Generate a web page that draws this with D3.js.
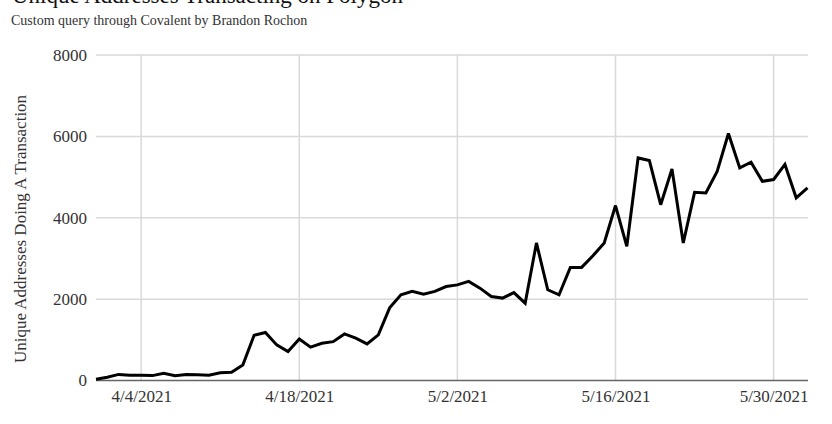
<!DOCTYPE html>
<html>
<head>
<meta charset="utf-8">
<script src="https://cdn.jsdelivr.net/npm/d3@7"></script>
<style>
  html, body { margin: 0; padding: 0; background: #fff; }
  svg { display: block; }
  text { font-family: "Liberation Serif", "Times New Roman", serif; fill: #222; }
</style>
</head>
<body>
<svg id="chart" width="832" height="424"></svg>
<script>
const dates = [
  "2021-03-31","2021-04-01","2021-04-02","2021-04-03","2021-04-04","2021-04-05","2021-04-06","2021-04-07",
  "2021-04-08","2021-04-09","2021-04-10","2021-04-11","2021-04-12","2021-04-13","2021-04-14","2021-04-15",
  "2021-04-16","2021-04-17","2021-04-18","2021-04-19","2021-04-20","2021-04-21","2021-04-22","2021-04-23",
  "2021-04-24","2021-04-25","2021-04-26","2021-04-27","2021-04-28","2021-04-29","2021-04-30","2021-05-01",
  "2021-05-02","2021-05-03","2021-05-04","2021-05-05","2021-05-06","2021-05-07","2021-05-08","2021-05-09",
  "2021-05-10","2021-05-11","2021-05-12","2021-05-13","2021-05-14","2021-05-15","2021-05-16","2021-05-17",
  "2021-05-18","2021-05-19","2021-05-20","2021-05-21","2021-05-22","2021-05-23","2021-05-24","2021-05-25",
  "2021-05-26","2021-05-27","2021-05-28","2021-05-29","2021-05-30","2021-05-31","2021-06-01","2021-06-02"
];
const uniqueAddresses = [
  30, 80, 150, 130, 130, 120, 180, 120,
  150, 140, 130, 190, 200, 380, 1110, 1180,
  875, 710, 1020, 820, 915, 955, 1145, 1040,
  900, 1120, 1785, 2105, 2190, 2120, 2190, 2310,
  2350, 2435, 2270, 2065, 2025, 2160, 1900, 3380,
  2230, 2105, 2780, 2780, 3065, 3380, 4300, 3295,
  5470, 5405, 4320, 5200, 3380, 4625, 4610, 5140,
  6070, 5225, 5365, 4895, 4940, 5310, 4490, 4735
];
const xTickDates = ["2021-04-04","2021-04-18","2021-05-02","2021-05-16","2021-05-30"];
const xTickLabels = ["4/4/2021","4/18/2021","5/2/2021","5/16/2021","5/30/2021"];
const yTicks = [0, 2000, 4000, 6000, 8000];

const titleText = "Unique Addresses Transacting on Polygon";
const subtitleText = "Custom query through Covalent by Brandon Rochon";
const yAxisTitle = "Unique Addresses Doing A Transaction";

const parse = d3.utcParse("%Y-%m-%d");
const data = dates.map((d, i) => ({ date: parse(d), value: uniqueAddresses[i] }));

const svg = d3.select("#chart");
const plotLeft = 96, plotRight = 807.5, plotTop = 55, plotBottom = 380.5;

const x = d3.scaleUtc()
  .domain(d3.extent(data, d => d.date))
  .range([plotLeft, plotRight]);
const y = d3.scaleLinear().domain([0, 8000]).range([plotBottom, plotTop]);

// titles (title is cropped at the top edge in the reference)
svg.append("text").attr("x", 12).attr("y", 3)
  .style("font-size", "23px").style("fill", "#111").text(titleText);
svg.append("text").attr("x", 11).attr("y", 25)
  .style("font-size", "14px").style("fill", "#333").text(subtitleText);

// horizontal gridlines
svg.append("g").selectAll("line").data(yTicks.filter(t => t > 0)).join("line")
  .attr("x1", plotLeft).attr("x2", 808)
  .attr("y1", d => y(d)).attr("y2", d => y(d))
  .attr("stroke", "#d9d9d9").attr("stroke-width", 1.5);

// vertical gridlines
svg.append("g").selectAll("line").data(xTickDates).join("line")
  .attr("x1", d => x(parse(d))).attr("x2", d => x(parse(d)))
  .attr("y1", plotTop).attr("y2", plotBottom)
  .attr("stroke", "#d9d9d9").attr("stroke-width", 1.5);

// baseline
svg.append("line").attr("x1", plotLeft).attr("x2", 808)
  .attr("y1", y(0)).attr("y2", y(0))
  .attr("stroke", "#666").attr("stroke-width", 1.5);

// y axis labels via d3 axis
const yAxis = d3.axisLeft(y).tickValues(yTicks).tickSize(0).tickPadding(0).tickFormat(d3.format("d"));
const gy = svg.append("g").attr("transform", `translate(87,0)`).call(yAxis);
gy.select(".domain").remove();
gy.selectAll("text").style("font-family", "'Liberation Serif', serif").style("font-size", "17px").style("fill", "#333");

// x axis labels via d3 axis
const xAxis = d3.axisBottom(x).tickValues(xTickDates.map(parse)).tickSize(0).tickPadding(0)
  .tickFormat((d, i) => xTickLabels[i]);
const gx = svg.append("g").attr("transform", `translate(0,390)`).call(xAxis);
gx.select(".domain").remove();
gx.selectAll("text").style("font-family", "'Liberation Serif', serif").style("font-size", "17px").style("fill", "#333");

// y axis title
svg.append("text")
  .attr("transform", `translate(26,229) rotate(-90)`)
  .attr("text-anchor", "middle")
  .style("font-size", "17px").style("fill", "#333")
  .text(yAxisTitle);

// line
const line = d3.line().x(d => x(d.date)).y(d => y(d.value));
svg.append("path").datum(data)
  .attr("d", line)
  .attr("fill", "none")
  .attr("stroke", "#000")
  .attr("stroke-width", 3)
  .attr("stroke-linejoin", "miter")
  .attr("stroke-miterlimit", 3);
</script>
</body>
</html>
